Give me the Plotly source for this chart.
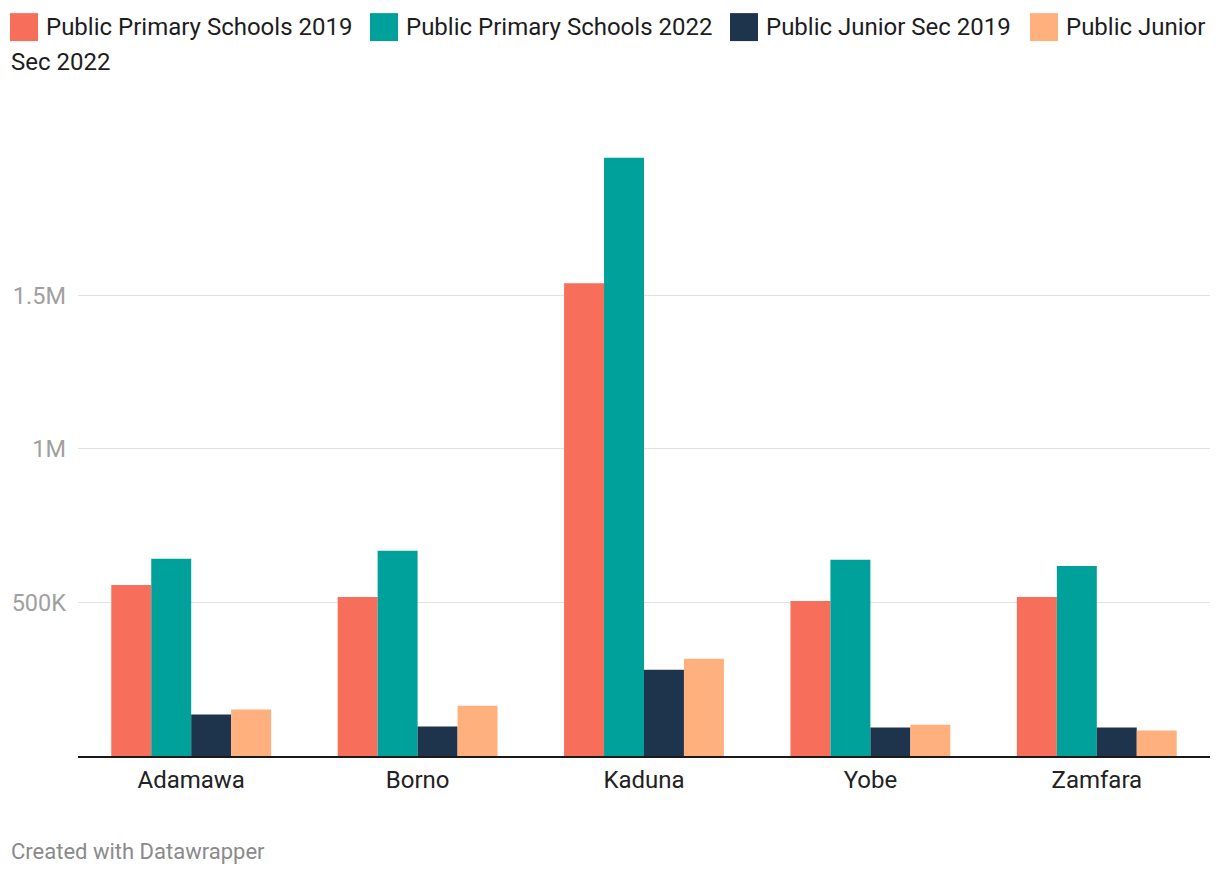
import plotly.graph_objects as go

states = ["Adamawa", "Borno", "Kaduna", "Yobe", "Zamfara"]
primary_2019 = [557000, 518000, 1539000, 505000, 518000]
primary_2022 = [642000, 668000, 1948000, 639000, 619000]
junior_2019 = [135000, 96000, 281000, 93000, 93000]
junior_2022 = [151000, 164000, 317000, 102000, 83000]

series_names = ["Public Primary Schools 2019", "Public Primary Schools 2022",
                "Public Junior Sec 2019", "Public Junior Sec 2022"]
series_values = [primary_2019, primary_2022, junior_2019, junior_2022]
colors = ["#F76E5A", "#00A19A", "#1E344C", "#FFB07D"]

tick_vals = [500000, 1000000, 1500000]
tick_text = ["500K", "1M", "1.5M"]

W, H = 1220, 878
OFF = 8  # page body offset
L, R, T, B = 78 - OFF, 10 + OFF, 154 - OFF, 121.5 + OFF
FONT = "Roboto"

fig = go.Figure()
for name, vals, col in zip(series_names, series_values, colors):
    fig.add_trace(go.Bar(x=states, y=vals, name=name, marker_color=col,
                         marker_line_width=0, showlegend=False))

pw = W - L - R
ph = H - T - B
def px_x(x):
    return (x - OFF - L) / pw
def px_y(y):
    return (H - B - (y - OFF)) / ph

# Manual legend (Datawrapper style)
legend_items = [
    (10, 27, "Public Primary Schools 2019"),
    (370, 27, "Public Primary Schools 2022"),
    (730, 27, "Public Junior Sec 2019"),
    (1030, 27, "Public Junior"),
]
shapes = []
annotations = []
for (x0, yc, label), col in zip(legend_items, colors):
    shapes.append(dict(type="rect", xref="paper", yref="paper",
                       x0=px_x(x0), x1=px_x(x0 + 28), y0=px_y(yc + 14), y1=px_y(yc - 14),
                       fillcolor=col, line_width=0))
    annotations.append(dict(xref="paper", yref="paper", x=px_x(x0 + 34), y=px_y(yc),
                            text=label, showarrow=False, xanchor="left", yanchor="middle",
                            font=dict(family=FONT, size=24, color="#1d1d1d")))
annotations.append(dict(xref="paper", yref="paper", x=px_x(9), y=px_y(62),
                        text="Sec 2022", showarrow=False, xanchor="left", yanchor="middle",
                        font=dict(family=FONT, size=24, color="#1d1d1d")))
annotations.append(dict(xref="paper", yref="paper", x=px_x(9), y=px_y(852),
                        text="Created with Datawrapper", showarrow=False, xanchor="left",
                        yanchor="middle", font=dict(family=FONT, size=22, color="#8a8a8a")))

fig.update_layout(
    width=W, height=H,
    margin=dict(l=L, r=R, t=T, b=B, autoexpand=False),
    paper_bgcolor="white", plot_bgcolor="white",
    barmode="group", bargap=0.294, bargroupgap=0,
    font=dict(family=FONT),
    shapes=shapes, annotations=annotations,
    xaxis=dict(showline=True, linecolor="#1a1a1a", linewidth=2, ticks="",
               tickfont=dict(family=FONT, size=24, color="#222"), ticklabelstandoff=1,
               showgrid=False),
    yaxis=dict(range=[0, 1960000], tickvals=tick_vals, ticktext=tick_text,
               showgrid=True, gridcolor="#e2e2e2", gridwidth=1.3, zeroline=False,
               tickfont=dict(family=FONT, size=23.5, color="#a0a0a0"), ticklabelstandoff=11,
               ticks=""),
)

fig.write_html("out.html")
